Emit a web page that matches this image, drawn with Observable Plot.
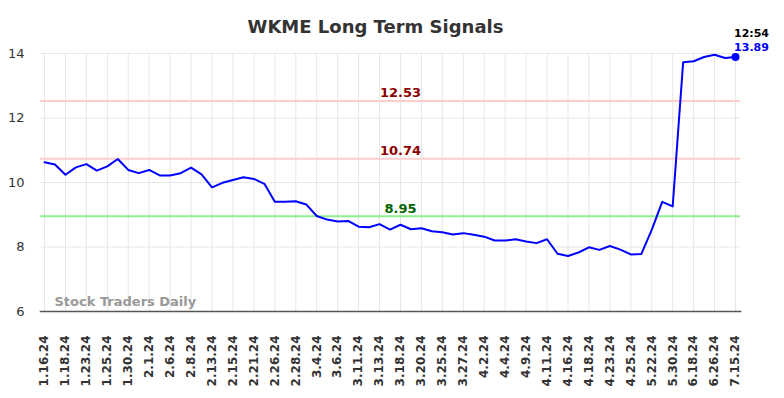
<!DOCTYPE html>
<html>
<head>
<meta charset="utf-8">
<script src="https://cdn.jsdelivr.net/npm/d3@7"></script>
<script src="https://cdn.jsdelivr.net/npm/@observablehq/plot@0.6"></script>
<style>
  body { margin: 0; background: #fff; }
  #chart svg { overflow: visible; }
</style>
</head>
<body>
<div id="chart"></div>
<script>
const tickLabels = ["1.16.24","1.18.24","1.23.24","1.25.24","1.30.24","2.1.24","2.6.24","2.8.24","2.13.24","2.15.24","2.21.24","2.26.24","2.28.24","3.4.24","3.6.24","3.11.24","3.13.24","3.18.24","3.20.24","3.25.24","3.27.24","4.2.24","4.4.24","4.9.24","4.11.24","4.16.24","4.18.24","4.23.24","4.25.24","5.22.24","5.30.24","6.18.24","6.26.24","7.15.24"];
const values = [10.63,10.56,10.24,10.47,10.57,10.37,10.50,10.73,10.39,10.29,10.39,10.22,10.22,10.29,10.46,10.25,9.85,9.99,10.08,10.16,10.11,9.96,9.40,9.40,9.42,9.32,8.96,8.85,8.79,8.81,8.63,8.61,8.71,8.54,8.69,8.55,8.58,8.49,8.46,8.39,8.43,8.38,8.32,8.20,8.20,8.24,8.17,8.12,8.24,7.79,7.72,7.83,7.99,7.91,8.03,7.92,7.77,7.78,8.53,9.40,9.26,13.73,13.76,13.89,13.96,13.86,13.89];
const levels = [12.53, 10.74, 8.95];
const levelColors = ["#ffcccc", "#ffcccc", "#90ee90"];
const levelTextColors = ["#8b0000", "#8b0000", "#006400"];
const title = "WKME Long Term Signals";
const lastTime = "12:54";
const watermark = "Stock Traders Daily";

const data = values.map((v, i) => ({i, v}));
const tickIdx = tickLabels.map((_, k) => k * 2);
const lastI = values.length - 1;
const labelX = 34;
const levelData = levels.map((y, k) => ({y, c: levelColors[k], t: levelTextColors[k]}));

const chart = Plot.plot({
  width: 784,
  height: 398,
  marginLeft: 40,
  marginRight: 44,
  marginTop: 53,
  marginBottom: 87,
  style: {fontFamily: "DejaVu Sans", background: "#fff"},
  x: {type: "linear", domain: [0, lastI], insetLeft: 4, insetRight: 5, axis: null},
  y: {domain: [6, 14], axis: null},
  marks: [
    Plot.gridX(tickIdx, {x: d => d, stroke: "#e6e6e6", strokeOpacity: 1, strokeWidth: 1}),
    Plot.gridY([8, 10, 12, 14], {stroke: "#e6e6e6", strokeOpacity: 1, strokeWidth: 1}),
    Plot.axisY([6, 8, 10, 12, 14], {tickSize: 0, tickPadding: 16, fontSize: 13, fill: "#333", label: null}),
    Plot.axisX(tickIdx, {tickSize: 0, tickPadding: 24, tickRotate: -90, fontSize: 12, fontWeight: "bold", fill: "#333",
      tickFormat: d => tickLabels[d / 2], label: null}),
    Plot.frame({anchor: "bottom", stroke: "#555", strokeWidth: 1.5}),
    Plot.ruleY(levelData, {y: "y", stroke: "c", strokeWidth: 2}),
    Plot.text(levelData, {x: () => labelX, y: "y", text: d => d.y.toFixed(2), fill: "t", fontSize: 13, fontWeight: "bold", dy: -8, textAnchor: "middle"}),
    Plot.line(data, {x: "i", y: "v", stroke: "#0000ff", strokeWidth: 2}),
    Plot.dot([data[lastI]], {x: "i", y: "v", r: 4, fill: "#0000ff", stroke: "none"}),
    Plot.text([data[lastI]], {x: "i", y: "v", text: () => lastTime, dx: 16, dy: -24, fontSize: 11, fontWeight: "bold", fill: "#000"}),
    Plot.text([data[lastI]], {x: "i", y: "v", text: d => d.v.toFixed(2), dx: 16, dy: -10, fontSize: 11, fontWeight: "bold", fill: "#0000ff"}),
    Plot.text([watermark], {frameAnchor: "bottom-left", text: d => d, dx: 14, dy: -6, fontSize: 13, fontWeight: "bold", fill: "#999", textAnchor: "start"}),
    Plot.text([title], {frameAnchor: "top", text: d => d, dx: -15, dy: -33, fontSize: 18, fontWeight: "bold", fill: "#333"})
  ]
});
document.getElementById("chart").appendChild(chart);
</script>
</body>
</html>
